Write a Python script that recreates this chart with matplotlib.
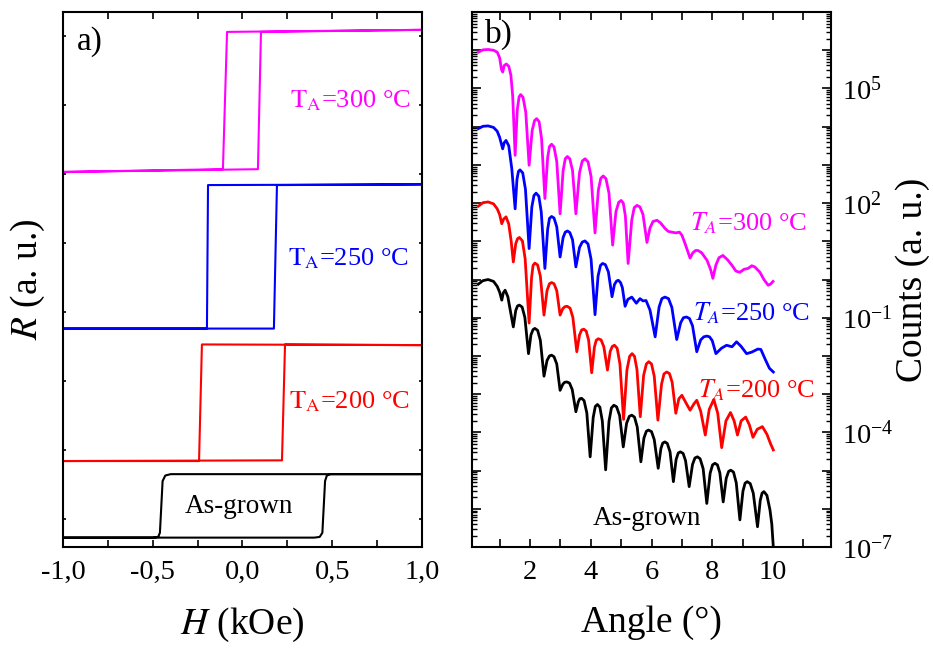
import numpy as np
import matplotlib
matplotlib.use('Agg')
import matplotlib.pyplot as plt
from matplotlib.ticker import FixedLocator, MultipleLocator, LogLocator, NullFormatter, FuncFormatter

plt.rcParams['font.family'] = 'Liberation Serif'
plt.rcParams['mathtext.fontset'] = 'stix'

# ---- a) R(H) loops, offset vertically (arb. units)
H_ag = [-1.0, 0.40, 0.43, 0.445, 0.46, 0.47, 0.49, 1.0, -0.40, -0.43, -0.445, -0.46, -0.47, -0.50, -1.0]
R_ag = [-0.27, -0.27, -0.26, -0.20, 0.55, 0.63, 0.65, 0.65, 0.65, 0.63, 0.55, -0.20, -0.26, -0.27, -0.27]
H_200 = [-1.0, 0.220, 0.237, 1.0, -0.226, -0.242, -1.0]
R_200 = [0.84, 0.85, 2.53, 2.52, 2.53, 0.84, 0.84]
H_250 = [-1.0, 0.175, 0.192, 1.0, -0.192, -0.198, -1.0]
R_250 = [2.76, 2.76, 4.84, 4.85, 4.84, 2.76, 2.76]
H_300 = [-1.0, 0.086, 0.103, 1.0, -0.086, -0.109, -1.0]
R_300 = [5.03, 5.07, 7.06, 7.09, 7.06, 5.07, 5.03]
h_ticks = [-1.0, -0.5, 0.0, 0.5, 1.0]
h_labels = ['-1,0', '-0,5', '0,0', '0,5', '1,0']

# ---- b) XRR curves: (angle in deg, log10 counts)
xrr_300 = [(0.30, 5.95), (0.45, 6.01), (0.62, 6.02), (0.80, 6.00), (0.92, 5.95), (1.00, 5.80), (1.06, 5.50),
           (1.10, 5.43), (1.15, 5.60), (1.22, 5.64), (1.30, 5.58), (1.37, 5.35), (1.43, 4.80), (1.51, 3.25),
           (1.58, 4.44), (1.64, 4.78), (1.69, 4.84), (1.77, 4.77), (1.86, 4.38), (1.97, 2.99),
           (2.07, 3.90), (2.15, 4.16), (2.22, 4.21), (2.30, 4.13), (2.38, 3.69), (2.49, 2.12),
           (2.58, 3.19), (2.64, 3.48), (2.71, 3.54), (2.79, 3.47), (2.88, 3.09), (2.99, 1.72),
           (3.09, 2.85), (3.16, 3.16), (3.23, 3.22), (3.31, 3.16), (3.40, 2.85), (3.51, 1.72),
           (3.63, 2.80), (3.72, 3.10), (3.81, 3.16), (3.91, 3.08), (4.01, 2.70), (4.14, 1.22),
           (4.25, 2.34), (4.33, 2.65), (4.41, 2.71), (4.50, 2.64), (4.60, 2.26), (4.72, 0.90),
           (4.83, 1.78), (4.92, 2.02), (5.00, 2.07), (5.07, 2.00), (5.14, 1.66), (5.23, 0.42),
           (5.35, 1.56), (5.43, 1.88), (5.52, 1.94), (5.62, 1.90), (5.72, 1.70), (5.85, 0.97),
           (5.95, 1.35), (6.05, 1.52), (6.18, 1.55), (6.30, 1.48), (6.44, 1.34), (6.55, 1.26), (6.67, 1.24),
           (6.80, 1.22), (6.92, 1.24), (7.00, 1.16), (7.10, 0.95), (7.27, 0.56),
           (7.36, 0.70), (7.45, 0.76), (7.53, 0.76), (7.65, 0.70), (7.83, 0.50), (7.95, 0.25), (8.02, 0.03),
           (8.12, 0.38), (8.22, 0.57), (8.35, 0.63), (8.50, 0.52), (8.65, 0.37), (8.78, 0.22), (8.91, 0.19),
           (9.05, 0.27), (9.18, 0.29), (9.30, 0.36), (9.40, 0.33), (9.57, 0.19), (9.70, 0.00), (9.84, -0.15),
           (9.92, -0.12), (10.00, -0.05)]

xrr_250 = [(0.30, 3.95), (0.45, 4.01), (0.62, 4.02), (0.80, 3.98), (0.92, 3.88), (1.00, 3.72), (1.10, 3.42),
           (1.15, 3.58), (1.21, 3.64), (1.30, 3.50), (1.40, 2.90), (1.51, 1.85),
           (1.57, 2.62), (1.62, 2.83), (1.67, 2.87), (1.76, 2.79), (1.85, 2.36), (1.97, 0.81),
           (2.06, 1.90), (2.13, 2.20), (2.20, 2.26), (2.29, 2.18), (2.37, 1.77), (2.49, 0.29),
           (2.58, 1.31), (2.64, 1.60), (2.71, 1.65), (2.79, 1.61), (2.88, 1.38), (2.99, 0.59),
           (3.09, 1.10), (3.16, 1.24), (3.23, 1.27), (3.31, 1.23), (3.40, 1.04), (3.51, 0.33),
           (3.63, 0.84), (3.72, 0.98), (3.81, 1.01), (3.91, 0.93), (4.01, 0.53), (4.14, -0.92),
           (4.24, 0.09), (4.32, 0.37), (4.39, 0.42), (4.48, 0.39), (4.58, 0.20), (4.70, -0.45),
           (4.78, -0.13), (4.85, -0.04), (4.91, -0.02), (4.98, -0.08), (5.04, -0.21), (5.13, -0.70),
           (5.22, -0.52), (5.35, -0.46), (5.50, -0.62), (5.62, -0.50), (5.72, -0.56), (5.82, -0.55),
           (5.95, -0.80), (6.12, -1.50),
           (6.25, -0.72), (6.34, -0.50), (6.44, -0.46), (6.56, -0.50), (6.67, -0.73), (6.83, -1.57),
           (6.96, -1.13), (7.05, -1.00), (7.15, -0.98), (7.25, -1.02), (7.35, -1.21), (7.49, -1.89),
           (7.62, -1.58), (7.72, -1.50), (7.82, -1.48), (7.91, -1.50), (8.00, -1.60), (8.12, -1.94),
           (8.30, -1.80), (8.47, -1.72), (8.65, -1.76), (8.80, -1.63), (8.95, -1.75), (9.13, -1.94),
           (9.30, -1.90), (9.50, -1.82), (9.60, -1.83), (9.75, -2.10), (9.88, -2.32), (10.01, -2.42)]

xrr_200 = [(0.30, 1.92), (0.45, 2.01), (0.62, 2.03), (0.80, 1.98), (0.92, 1.85), (1.00, 1.70), (1.07, 1.46),
           (1.13, 1.58), (1.21, 1.64), (1.30, 1.45), (1.38, 1.00), (1.45, 0.46),
           (1.53, 0.94), (1.59, 1.07), (1.65, 1.10), (1.75, 1.01), (1.84, 0.54), (1.97, -1.14),
           (2.05, 0.04), (2.10, 0.37), (2.16, 0.43), (2.25, 0.38), (2.34, 0.09), (2.46, -0.93),
           (2.56, -0.29), (2.64, -0.11), (2.71, -0.08), (2.79, -0.11), (2.88, -0.29), (2.99, -0.93),
           (3.08, -0.76), (3.15, -0.71), (3.22, -0.70), (3.32, -0.75), (3.41, -0.99), (3.54, -1.89),
           (3.63, -1.45), (3.70, -1.32), (3.77, -1.30), (3.85, -1.35), (3.93, -1.59), (4.03, -2.44),
           (4.12, -1.77), (4.18, -1.59), (4.25, -1.55), (4.34, -1.58), (4.43, -1.76), (4.55, -2.37),
           (4.64, -1.88), (4.71, -1.75), (4.78, -1.72), (4.87, -1.80), (4.96, -2.21), (5.08, -3.66),
           (5.19, -2.37), (5.28, -2.01), (5.36, -1.94), (5.44, -2.01), (5.52, -2.35), (5.63, -3.59),
           (5.74, -2.51), (5.83, -2.21), (5.91, -2.15), (6.00, -2.21), (6.09, -2.53), (6.21, -3.68),
           (6.33, -2.74), (6.41, -2.47), (6.50, -2.42), (6.59, -2.46), (6.68, -2.69), (6.80, -3.50),
           (6.90, -3.12), (7.00, -3.03), (7.15, -3.25), (7.27, -3.42), (7.40, -3.25), (7.49, -3.16),
           (7.62, -3.45), (7.77, -4.07), (7.90, -3.40), (8.05, -3.14), (8.18, -3.50), (8.31, -4.40),
           (8.45, -3.70), (8.60, -3.48), (8.72, -3.70), (8.83, -4.07), (8.95, -3.70), (9.10, -3.60),
           (9.22, -3.80), (9.34, -4.13), (9.48, -3.92), (9.65, -3.85), (9.80, -4.05), (9.92, -4.30),
           (10.01, -4.46)]

xrr_ag = [(0.30, -0.12), (0.45, -0.03), (0.62, 0.00), (0.80, -0.05), (0.92, -0.18), (1.00, -0.33),
          (1.07, -0.54), (1.12, -0.35), (1.18, -0.28), (1.27, -0.45), (1.36, -0.85), (1.45, -1.24),
          (1.53, -0.81), (1.59, -0.69), (1.65, -0.67), (1.74, -0.72), (1.83, -0.99), (1.95, -1.94),
          (2.03, -1.45), (2.10, -1.31), (2.16, -1.28), (2.25, -1.33), (2.34, -1.59), (2.46, -2.53),
          (2.56, -2.12), (2.64, -2.00), (2.71, -1.98), (2.79, -2.02), (2.88, -2.21), (2.99, -2.90),
          (3.08, -2.74), (3.14, -2.69), (3.21, -2.68), (3.30, -2.71), (3.39, -2.88), (3.51, -3.46),
          (3.59, -3.20), (3.64, -3.12), (3.70, -3.11), (3.78, -3.17), (3.87, -3.49), (3.98, -4.64),
          (4.08, -3.61), (4.15, -3.32), (4.22, -3.27), (4.30, -3.34), (4.38, -3.70), (4.49, -4.98),
          (4.60, -3.71), (4.68, -3.36), (4.76, -3.29), (4.85, -3.33), (4.95, -3.56), (5.07, -4.38),
          (5.18, -3.76), (5.27, -3.58), (5.35, -3.55), (5.44, -3.60), (5.53, -3.86), (5.65, -4.77),
          (5.75, -4.15), (5.83, -3.97), (5.90, -3.94), (6.00, -3.98), (6.09, -4.19), (6.22, -4.94),
          (6.31, -4.42), (6.37, -4.28), (6.44, -4.25), (6.52, -4.29), (6.61, -4.51), (6.72, -5.29),
          (6.81, -4.71), (6.88, -4.54), (6.95, -4.51), (7.04, -4.55), (7.12, -4.74), (7.24, -5.42),
          (7.35, -4.84), (7.43, -4.67), (7.51, -4.64), (7.60, -4.69), (7.70, -4.95), (7.82, -5.86),
          (7.93, -5.07), (8.01, -4.85), (8.09, -4.81), (8.17, -4.85), (8.25, -5.06), (8.36, -5.82),
          (8.46, -5.20), (8.54, -5.02), (8.61, -4.99), (8.70, -5.04), (8.79, -5.32), (8.91, -6.29),
          (9.01, -5.54), (9.08, -5.33), (9.15, -5.29), (9.25, -5.34), (9.35, -5.59), (9.49, -6.47),
          (9.58, -5.78), (9.64, -5.59), (9.70, -5.55), (9.80, -5.65), (9.90, -6.03), (9.96, -6.40),
          (10.01, -7.00)]
labeled_exp = [-7, -4, -1, 2, 5]

fig = plt.figure(figsize=(9.33, 6.54), dpi=100)
ax1 = fig.add_axes([0.0675, 0.1636, 0.3848, 0.818])
ax2 = fig.add_axes([0.5059, 0.1636, 0.3848, 0.818])

# panel a
ax1.plot(H_ag, R_ag, color='black', lw=1.5)
ax1.plot(H_200, R_200, color='#ff0000', lw=1.5)
ax1.plot(H_250, R_250, color='#0000ff', lw=1.5)
ax1.plot(H_300, R_300, color='#ff00ff', lw=1.5)
ax1.set_xlim(-1.0, 1.0)
ax1.set_ylim(-0.406, 7.348)
ax1.set_xticks(h_ticks, h_labels)
ax1.xaxis.set_minor_locator(MultipleLocator(0.25))
ax1.set_yticks(range(8))
ax1.set_yticklabels([])
ax1.tick_params(axis='x', which='both', direction='in', top=True, length=5, width=1.2,
                labelsize=20.5, pad=9)
ax1.tick_params(axis='y', which='both', direction='in', right=True, length=2.5, width=1.2)
ax1.set_xlabel('$H$ (kOe)', fontsize=27)
ax1.xaxis.set_label_coords(0.5, -0.11)
ax1.set_ylabel('$R$ (a. u.)', fontsize=27)
ax1.yaxis.set_label_coords(-0.045, 0.5)
ax1.text(0.265, 5.97, r'$\mathrm{T_A}$=300 °C', color='#ff00ff', fontsize=19, va='baseline')
ax1.text(0.253, 3.68, r'$\mathrm{T_A}$=250 °C', color='#0000ff', fontsize=19, va='baseline')
ax1.text(0.260, 1.61, r'$\mathrm{T_A}$=200 °C', color='#ff0000', fontsize=19, va='baseline')
ax1.text(-0.32, 0.09, 'As-grown', color='black', fontsize=19.5, va='baseline')
ax1.text(0.039, 0.929, 'a)', fontsize=24, transform=ax1.transAxes, va='baseline')

# panel b
for data, col in [(xrr_ag, 'black'), (xrr_200, '#ff0000'), (xrr_250, '#0000ff'), (xrr_300, '#ff00ff')]:
    a, lg = np.array(data).T
    ax2.semilogy(a, 10.0 ** lg, color=col, lw=2, solid_joinstyle='round')
ax2.set_xlim(0.09, 11.91)
ax2.set_ylim(1e-7, 1e7)
ax2.set_xticks([2, 4, 6, 8, 10])
ax2.xaxis.set_minor_locator(FixedLocator([1, 3, 5, 7, 9, 11]))
ax2.yaxis.set_major_locator(LogLocator(base=10, numticks=30))
ax2.yaxis.set_minor_locator(LogLocator(base=10, subs=np.arange(2, 10), numticks=30))
ax2.yaxis.set_minor_formatter(NullFormatter())


def exp_label(v, pos):
    e = int(round(np.log10(v)))
    return r'$\mathdefault{10^{%d}}$' % e if e in labeled_exp else ''


ax2.yaxis.set_major_formatter(FuncFormatter(exp_label))
ax2.yaxis.tick_right()
ax2.yaxis.set_label_position('right')
ax2.tick_params(axis='x', which='both', direction='in', top=True, length=6, width=1.2,
                labelsize=20.5, pad=9)
ax2.tick_params(axis='y', which='major', direction='in', left=True, right=True, length=6.5, width=1.2,
                labelsize=20.5, pad=8)
ax2.tick_params(axis='y', which='minor', direction='in', left=True, right=True, length=3.5, width=1.0)
ax2.set_xlabel('Angle (°)', fontsize=27)
ax2.xaxis.set_label_coords(0.5, -0.11)
ax2.set_ylabel('Counts (a. u.)', fontsize=27)
ax2.yaxis.set_label_coords(1.178, 0.5)
ax2.text(7.27, 10 ** 1.29, '$T_A$=300 °C', color='#ff00ff', fontsize=19, va='baseline')
ax2.text(7.37, 10 ** -1.07, '$T_A$=250 °C', color='#0000ff', fontsize=19, va='baseline')
ax2.text(7.53, 10 ** -3.08, '$T_A$=200 °C', color='#ff0000', fontsize=19, va='baseline')
ax2.text(4.07, 10 ** -6.42, 'As-grown', color='black', fontsize=19.5, va='baseline')
ax2.text(0.036, 0.942, 'b)', fontsize=24, transform=ax2.transAxes, va='baseline')

for ax in (ax1, ax2):
    for s in ax.spines.values():
        s.set_linewidth(1.5)

fig.savefig('out.png', dpi=100)
